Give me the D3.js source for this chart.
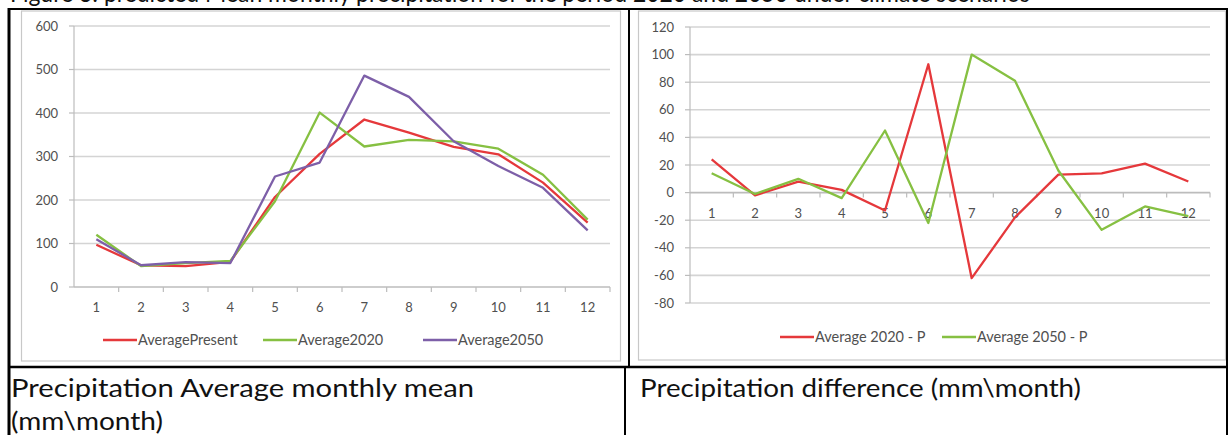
<!DOCTYPE html>
<html>
<head>
<meta charset="utf-8">
<script src="https://cdn.jsdelivr.net/npm/d3@7"></script>
<style>
  body { margin: 0; background: #fff; }
  svg { display: block; }
  .tick-label { font: 13px Lato, "Open Sans", sans-serif; fill: #505050; }
  .legend text { font: 14.5px Lato, "Open Sans", sans-serif; fill: #505050; }
  .caption { font: 25px Lato, "Open Sans", sans-serif; fill: #111; }
</style>
</head>
<body>
<svg id="fig" width="1232" height="435"></svg>
<script>
  // values
  const months = [1, 2, 3, 4, 5, 6, 7, 8, 9, 10, 11, 12];
  const avgPresent = [97, 50, 48, 58, 207, 306, 385, 355, 322, 305, 240, 148];
  const avg2020 = [120, 48, 55, 60, 197, 401, 323, 338, 335, 318, 258, 155];
  const avg2050 = [110, 50, 57, 55, 254, 286, 486, 437, 335, 278, 228, 130];
  const diff2020 = [24, -2, 8, 2, -13, 93, -62, -18, 13, 14, 21, 8];
  const diff2050 = [14, -1, 10, -4, 45, -22, 100, 81, 16, -27, -10, -17];
  const leftTicks = [0, 100, 200, 300, 400, 500, 600];
  const rightTicks = [-80, -60, -40, -20, 0, 20, 40, 60, 80, 100, 120];

  const RED = '#e5383b', GREEN = '#86c042', PURPLE = '#7d5fa8';
  const GRID = '#d4d4d4', AXIS = '#bcbcbc';

  const svg = d3.select('#fig');

  // partly cut-off heading above the table
  svg.append('text')
    .attr('x', 10).attr('y', 2)
    .attr('class', 'caption')
    .attr('textLength', 1020).attr('lengthAdjust', 'spacingAndGlyphs')
    .text('Figure 3: predicted Mean monthly precipitation for the period 2020 and 2050 under climate scenarios');

  // chart frames
  function frame(x, y, w, h) {
    svg.append('rect')
      .attr('x', x).attr('y', y).attr('width', w).attr('height', h)
      .attr('fill', '#fff').attr('stroke', '#c8c8c8').attr('stroke-width', 1.2);
  }
  frame(21.5, 11, 599, 350);
  frame(638.5, 11, 587, 349);

  function lineChart(opts) {
    const g = svg.append('g');
    const x = d3.scaleBand().domain(months).range(opts.xRange).padding(0);
    const y = d3.scaleLinear().domain(opts.yDomain).range(opts.yRange);
    const cx = (d) => x(d) + x.bandwidth() / 2;

    // gridlines
    g.selectAll('.grid').data(opts.ticks).enter().append('line')
      .attr('x1', opts.xRange[0]).attr('x2', opts.xRange[1])
      .attr('y1', (d) => y(d)).attr('y2', (d) => y(d))
      .attr('stroke', (d) => d === 0 ? AXIS : GRID)
      .attr('stroke-width', 1.6);

    // y axis line + ticks
    g.append('line')
      .attr('x1', opts.xRange[0]).attr('x2', opts.xRange[0])
      .attr('y1', opts.yRange[1]).attr('y2', opts.yRange[0])
      .attr('stroke', AXIS).attr('stroke-width', 1.2);
    g.selectAll('.ytick').data(opts.ticks).enter().append('line')
      .attr('x1', opts.xRange[0] - 5).attr('x2', opts.xRange[0])
      .attr('y1', (d) => y(d)).attr('y2', (d) => y(d))
      .attr('stroke', AXIS).attr('stroke-width', 1.2);
    g.selectAll('.ylab').data(opts.ticks).enter().append('text')
      .attr('class', 'tick-label')
      .attr('x', opts.xRange[0] - 16).attr('y', (d) => y(d))
      .attr('dy', '0.35em').attr('text-anchor', 'end')
      .text((d) => d);

    // x axis ticks at category boundaries on the zero line
    const bounds = months.map((m) => x(m)).concat([opts.xRange[1]]);
    g.selectAll('.xtick').data(bounds.slice(1)).enter().append('line')
      .attr('x1', (d) => d).attr('x2', (d) => d)
      .attr('y1', y(0)).attr('y2', y(0) + 5)
      .attr('stroke', AXIS).attr('stroke-width', 1.2);
    g.selectAll('.xlab').data(months).enter().append('text')
      .attr('class', 'tick-label')
      .attr('x', (d) => cx(d)).attr('y', y(0) + opts.labelOffset)
      .attr('dy', '0.35em').attr('text-anchor', 'middle')
      .text((d) => d);

    const line = d3.line()
      .x((d, i) => cx(months[i]))
      .y((d) => y(d));
    opts.series.forEach((s) => {
      g.append('path')
        .datum(s.values)
        .attr('d', line)
        .attr('fill', 'none')
        .attr('stroke', s.color)
        .attr('stroke-width', 2.3)
        .attr('stroke-linejoin', 'round');
    });

    // legend
    const lg = g.append('g').attr('class', 'legend');
    opts.series.forEach((s) => {
      lg.append('line')
        .attr('x1', s.lx).attr('x2', s.lx + 34)
        .attr('y1', opts.legendY).attr('y2', opts.legendY)
        .attr('stroke', s.color).attr('stroke-width', 2.3);
      lg.append('text')
        .attr('x', s.lx + 35).attr('y', opts.legendY)
        .attr('dy', '0.35em')
        .text(s.name);
    });
  }

  lineChart({
    xRange: [74, 610],
    yDomain: [0, 600],
    yRange: [287, 26],
    ticks: leftTicks,
    labelOffset: 20,
    legendY: 340,
    series: [
      {name: 'AveragePresent', values: avgPresent, color: RED, lx: 103},
      {name: 'Average2020', values: avg2020, color: GREEN, lx: 263},
      {name: 'Average2050', values: avg2050, color: PURPLE, lx: 423},
    ],
  });

  lineChart({
    xRange: [690, 1210],
    yDomain: [-80, 120],
    yRange: [303, 27],
    ticks: rightTicks,
    labelOffset: 21,
    legendY: 337,
    series: [
      {name: 'Average 2020 - P', values: diff2020, color: RED, lx: 780},
      {name: 'Average 2050 - P', values: diff2050, color: GREEN, lx: 942},
    ],
  });

  // table borders
  const border = svg.append('g').attr('stroke', '#000');
  border.append('line').attr('x1', 8).attr('x2', 1228).attr('y1', 9).attr('y2', 9).attr('stroke-width', 2);
  border.append('line').attr('x1', 9).attr('x2', 9).attr('y1', 8).attr('y2', 435).attr('stroke-width', 3);
  border.append('line').attr('x1', 629).attr('x2', 629).attr('y1', 8).attr('y2', 367).attr('stroke-width', 2);
  border.append('line').attr('x1', 625).attr('x2', 625).attr('y1', 367).attr('y2', 435).attr('stroke-width', 2);
  border.append('line').attr('x1', 1227).attr('x2', 1227).attr('y1', 8).attr('y2', 435).attr('stroke-width', 2);
  border.append('line').attr('x1', 8).attr('x2', 1228).attr('y1', 367).attr('y2', 367).attr('stroke-width', 2.5);

  // captions
  svg.append('text').attr('class', 'caption').attr('x', 11).attr('y', 397)
    .attr('textLength', 463).attr('lengthAdjust', 'spacingAndGlyphs')
    .text('Precipitation Average monthly mean');
  svg.append('text').attr('class', 'caption').attr('x', 11).attr('y', 430)
    .attr('textLength', 152).attr('lengthAdjust', 'spacingAndGlyphs')
    .text('(mm\\month)');
  svg.append('text').attr('class', 'caption').attr('x', 640).attr('y', 397)
    .attr('textLength', 441).attr('lengthAdjust', 'spacingAndGlyphs')
    .text('Precipitation difference (mm\\month)');
</script>
</body>
</html>
